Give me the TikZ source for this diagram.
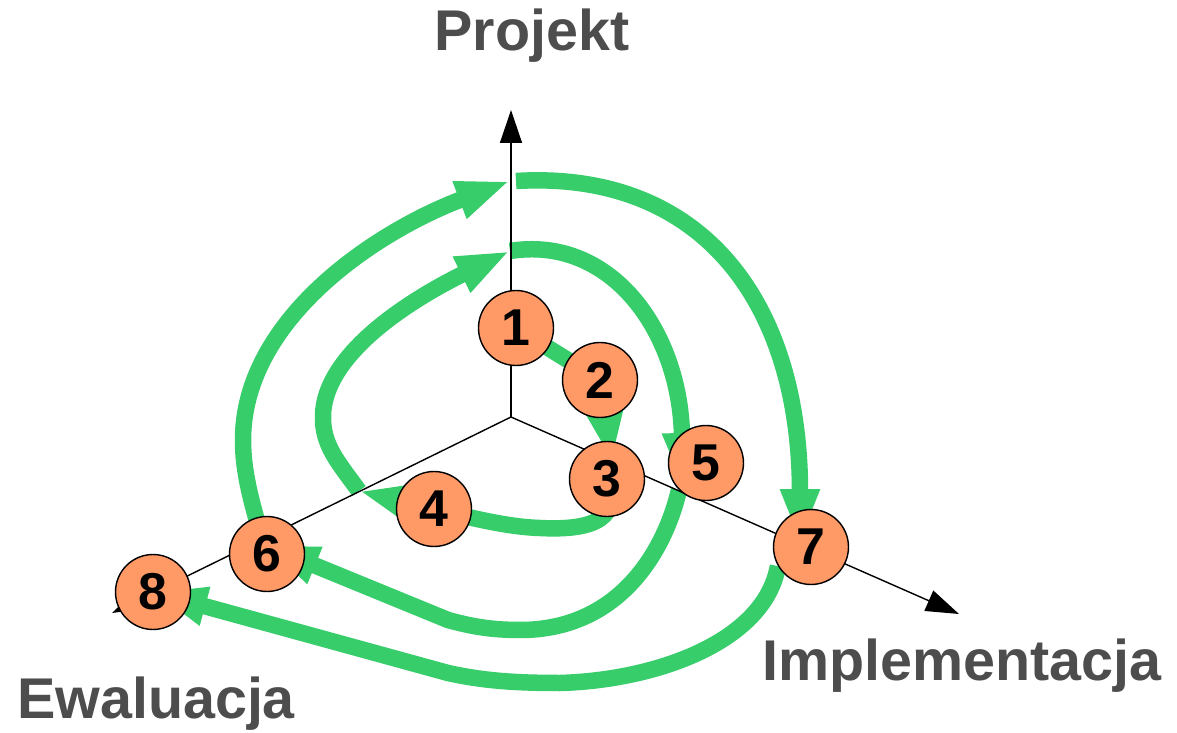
\documentclass[tikz,border=0pt]{standalone}
\usepackage{fontspec}
\setmainfont{Liberation Sans}
\usepackage{xcolor}
\usetikzlibrary{arrows.meta,calc,backgrounds}

\definecolor{zielony}{RGB}{54,205,106}
\definecolor{pomarancz}{RGB}{255,153,102}
\definecolor{szary}{RGB}{77,77,77}

\begin{document}
\begin{tikzpicture}[x=0.02cm, y=-0.02cm,
	os/.style={line width=0.8pt, -{Triangle[length=0.66cm,width=0.44cm]}},
	pasek/.style={zielony, line width=0.33cm},
	strzalka/.style={pasek, -{Triangle[length=1.08cm,width=0.72cm]}},
	faza/.style={circle, draw, line width=0.8pt, fill=pomarancz, minimum size=1.5cm, inner sep=0pt,
		font=\fontsize{29.5}{31}\selectfont\bfseries},
	etykieta/.style={szary, anchor=base, font=\fontsize{32.7}{36}\selectfont\bfseries}]
	\useasboundingbox (0,0) rectangle (1177,733);

	\coordinate (o) at (511,417);
	\coordinate (kp) at (511,110);
	\coordinate (ki) at (959,614);
	\coordinate (ke) at (112,613);
	\coordinate (py1) at (510,251);
	\coordinate (py2) at (510,181);
	\coordinate (e4) at (359,491);

	\node[etykieta] (projekt) at (532,51) {Projekt};
	\node[etykieta] (implementacja) at (962,680) {Implementacja};
	\node[etykieta] (ewaluacja) at (156,718) {Ewaluacja};

	\node[faza] (n1) at (516,328) {1};
	\node[faza] (n2) at (600,380) {2};
	\node[faza] (n3) at (607,479) {3};
	\node[faza] (n4) at (434,509) {4};
	\node[faza] (n5) at (706,463) {5};
	\node[faza] (n6) at (267,554) {6};
	\node[faza] (n7) at (811,547) {7};
	\node[faza] (n8) at (153,592) {8};

	\begin{pgfonlayer}{background}
		% spirala
		\draw[pasek] (n1.center) -- (n2.center);
		\draw[strzalka] (n2.center) -- ($(n3)+(5,-17)$);
		\draw[pasek] (n3.center) .. controls (625,525) and (580,530) .. (540,528)
			.. controls (510,527) and (480,520) .. (n4.center);
		\draw[strzalka] (n4.center) -- (e4);
		\draw[strzalka] (e4) .. controls (338,462) and (322,445) .. (323,415)
			.. controls (325,350) and (420,295) .. (py1);
		\draw[strzalka] (py1) .. controls (610,235) and (680,330) .. ($(n5)+(-23,24)$);
		\draw[strzalka] (n5.south west) .. controls (665,550) and (620,630) .. (520,630)
			.. controls (490,630) and (470,626) .. (448,620) -- ($(n6)+(-2,-9)$);
		\draw[strzalka] (n6.center) .. controls (250,500) and (243,470) .. (243,440)
			.. controls (243,320) and (375,232) .. (py2);
		\draw[strzalka] ($(py2)+(6,0)$) .. controls (700,170) and (800,300) .. ($(n7)+(-11,-4)$);
		\draw[strzalka] (n7.210) .. controls (765,640) and (660,680) .. (560,683)
			.. controls (510,683) and (480,680) .. (448,673) -- (n8.center);

		% osie
		\draw[os] (o) -- (kp);
		\draw[os] (o) -- (ki);
		\draw[os] (o) -- (ke);
	\end{pgfonlayer}
\end{tikzpicture}
\end{document}
